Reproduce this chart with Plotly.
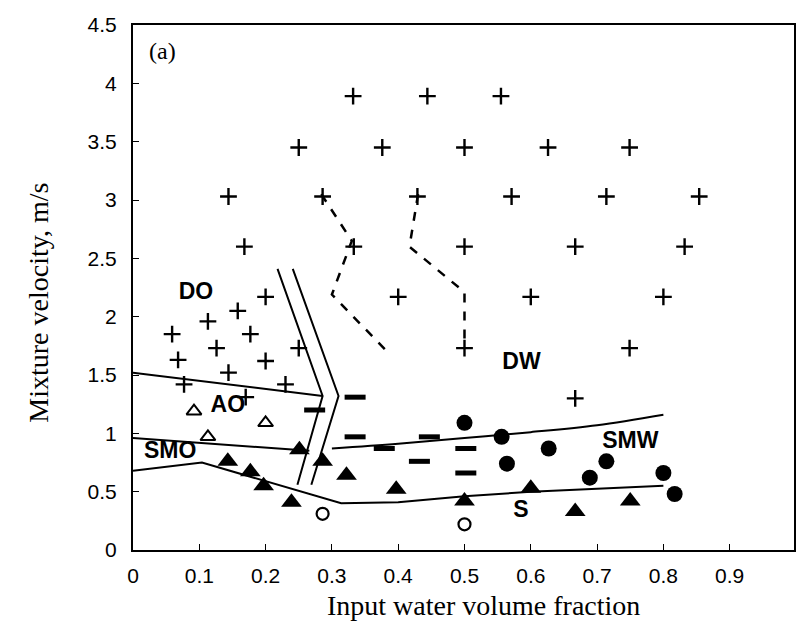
import plotly.graph_objects as go

# ---- data ----
plus_x = [0.332, 0.444, 0.555,
          0.25, 0.376, 0.5, 0.626, 0.749,
          0.144, 0.286, 0.429, 0.571, 0.714, 0.854,
          0.168, 0.333, 0.5, 0.667, 0.832,
          0.2, 0.4, 0.6, 0.8,
          0.158, 0.113, 0.059, 0.177, 0.126, 0.25, 0.068, 0.2, 0.144, 0.077, 0.23, 0.17,
          0.5, 0.749, 0.667]
plus_y = [3.89, 3.89, 3.89,
          3.45, 3.45, 3.45, 3.45, 3.45,
          3.03, 3.03, 3.03, 3.03, 3.03, 3.03,
          2.60, 2.60, 2.60, 2.60, 2.60,
          2.17, 2.17, 2.17, 2.17,
          2.05, 1.96, 1.85, 1.85, 1.73, 1.73, 1.63, 1.62, 1.52, 1.42, 1.42, 1.31,
          1.73, 1.73, 1.30]

tri_x = [0.143, 0.177, 0.197, 0.239, 0.251, 0.286, 0.322, 0.397, 0.5, 0.6, 0.667, 0.75]
tri_y = [0.76, 0.67, 0.55, 0.41, 0.86, 0.76, 0.64, 0.52, 0.42, 0.53, 0.33, 0.42]

otri_x = [0.092, 0.113, 0.2]
otri_y = [1.19, 0.97, 1.09]

dot_x = [0.5, 0.556, 0.627, 0.564, 0.714, 0.689, 0.8, 0.817]
dot_y = [1.09, 0.97, 0.87, 0.74, 0.76, 0.62, 0.66, 0.48]

ocirc_x = [0.286, 0.5]
ocirc_y = [0.31, 0.22]

dash_x = [0.274, 0.335, 0.335, 0.379, 0.432, 0.447, 0.502, 0.502]
dash_y = [1.20, 1.31, 0.97, 0.87, 0.76, 0.97, 0.87, 0.66]

# boundary lines
ao_top_x = [0, 0.286]
ao_top_y = [1.52, 1.32]
smo_top_x = [0, 0.266]
smo_top_y = [0.96, 0.85]
smw_top_x = [0.3, 0.4, 0.5, 0.6, 0.7, 0.8]
smw_top_y = [0.87, 0.91, 0.96, 1.01, 1.07, 1.16]
low_x = [0, 0.104, 0.314, 0.4, 0.5, 0.6, 0.8]
low_y = [0.68, 0.75, 0.40, 0.41, 0.46, 0.50, 0.55]
dbl_left_x = [0.218, 0.286, 0.248]
dbl_left_y = [2.41, 1.32, 0.56]
dbl_right_x = [0.241, 0.31, 0.269]
dbl_right_y = [2.41, 1.32, 0.56]
dash_left_x = [0.284, 0.33, 0.30, 0.38]
dash_left_y = [3.05, 2.65, 2.19, 1.72]
dash_right_x = [0.43, 0.417, 0.5, 0.5]
dash_right_y = [3.05, 2.60, 2.21, 1.80]

region_labels = ["DO", "AO", "SMO", "DW", "SMW", "S"]
region_x = [0.095, 0.143, 0.056, 0.586, 0.75, 0.585]
region_y = [2.20, 1.23, 0.84, 1.60, 0.92, 0.33]

x_ticks = [0, 0.1, 0.2, 0.3, 0.4, 0.5, 0.6, 0.7, 0.8, 0.9, 1]
y_ticks = [0, 0.5, 1, 1.5, 2, 2.5, 3, 3.5, 4, 4.5]

x_title = "Input water volume fraction"
y_title = "Mixture velocity, m/s"

fig = go.Figure()

line_style = dict(color="black", width=2)
for xs, ys in [(ao_top_x, ao_top_y), (smo_top_x, smo_top_y), (smw_top_x, smw_top_y),
               (low_x, low_y), (dbl_left_x, dbl_left_y), (dbl_right_x, dbl_right_y)]:
    fig.add_trace(go.Scatter(x=xs, y=ys, mode="lines", line=line_style,
                             line_shape="spline" if xs is smw_top_x else "linear",
                             showlegend=False, hoverinfo="skip"))
for xs, ys in [(dash_left_x, dash_left_y), (dash_right_x, dash_right_y)]:
    fig.add_trace(go.Scatter(x=xs, y=ys, mode="lines",
                             line=dict(color="black", width=2.5, dash="dash"),
                             showlegend=False, hoverinfo="skip"))

fig.add_trace(go.Scatter(x=plus_x, y=plus_y, mode="markers", showlegend=False,
                         marker=dict(symbol="cross-thin", size=12, color="black",
                                     line=dict(width=2.4, color="black"))))
fig.add_trace(go.Scatter(x=tri_x, y=tri_y, mode="markers", showlegend=False,
                         marker=dict(symbol="triangle-up", size=18, color="black")))
fig.add_trace(go.Scatter(x=otri_x, y=otri_y, mode="markers", showlegend=False,
                         marker=dict(symbol="triangle-up-open", size=13, color="black",
                                     line=dict(width=2, color="black"))))
fig.add_trace(go.Scatter(x=dot_x, y=dot_y, mode="markers", showlegend=False,
                         marker=dict(symbol="circle", size=16, color="black")))
fig.add_trace(go.Scatter(x=ocirc_x, y=ocirc_y, mode="markers", showlegend=False,
                         marker=dict(symbol="circle-open", size=12, color="black",
                                     line=dict(width=2.2, color="black"))))
fig.add_trace(go.Scatter(x=dash_x, y=dash_y, mode="markers", showlegend=False,
                         marker=dict(symbol="line-ew", size=15, color="black",
                                     line=dict(width=5, color="black"))))

fig.add_trace(go.Scatter(x=region_x, y=region_y, mode="text", text=region_labels,
                         showlegend=False, hoverinfo="skip",
                         textfont=dict(family="Liberation Sans", size=23, color="black",
                                       weight="bold")))

fig.add_annotation(x=0.045, y=4.28, xref="x", yref="y", text="(a)", showarrow=False,
                   font=dict(family="Liberation Serif", size=24, color="black"))

# axis titles placed as annotations (reference titles are slightly off-centre)
fig.add_annotation(x=0.531, y=-0.105, xref="paper", yref="paper", text=x_title,
                   showarrow=False, xanchor="center", yanchor="middle",
                   font=dict(family="Liberation Serif", size=28, color="black"))
fig.add_annotation(x=-0.143, y=0.472, xref="paper", yref="paper", text=y_title,
                   showarrow=False, xanchor="center", yanchor="middle", textangle=-90,
                   font=dict(family="Liberation Serif", size=28, color="black"))

fig.update_layout(
    width=796, height=633,
    margin=dict(l=133, r=0, t=25, b=83),
    paper_bgcolor="white", plot_bgcolor="white",
    xaxis=dict(range=[0, 0.997], tickvals=x_ticks, ticktext=[str(v) for v in x_ticks],
               showgrid=False, zeroline=False, showline=True, mirror=True,
               linecolor="black", linewidth=2, ticks="inside", ticklen=6,
               tickcolor="black", tickwidth=1, ticklabelstandoff=6,
               tickfont=dict(family="Liberation Sans", size=21, color="black")),
    yaxis=dict(range=[0, 4.5], tickvals=y_ticks, ticktext=[str(v) for v in y_ticks],
               showgrid=False, zeroline=False, showline=True, mirror=True,
               linecolor="black", linewidth=2, ticks="inside", ticklen=6,
               tickcolor="black", tickwidth=1, ticklabelstandoff=10,
               tickfont=dict(family="Liberation Sans", size=21, color="black")),
)

fig.write_html("out.html")
